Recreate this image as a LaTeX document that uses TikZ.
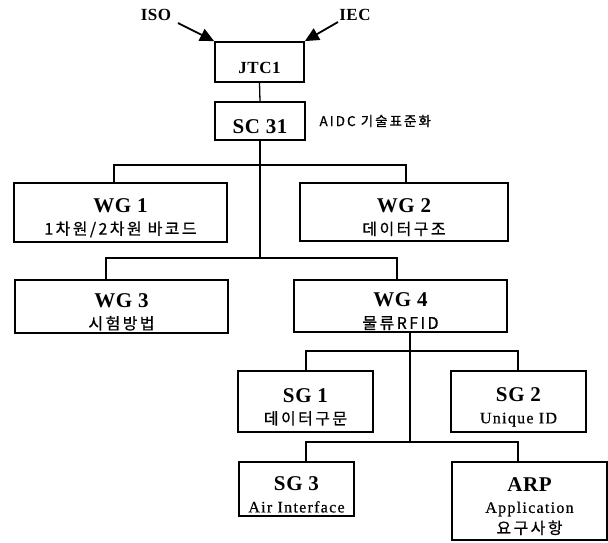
\documentclass[tikz,border=0pt]{standalone}
\usepackage{fontspec}
\setmainfont{Liberation Serif}
\newfontfamily\ttlfont[LetterSpace=3]{Liberation Serif}
\newfontfamily\subfont[LetterSpace=8,FakeBold=0.5]{Liberation Serif}
\newfontfamily\krfont[LetterSpace=15,FakeBold=0.7]{Noto Sans CJK KR}
\usetikzlibrary{arrows.meta}
\newcommand{\ttl}[1]{{\ttlfont\bfseries\fontsize{21}{22}\selectfont\rule{0pt}{25pt}#1}}
\newcommand{\kr}[1]{{\krfont\fontsize{16}{22}\selectfont #1}}
\newcommand{\sub}[1]{{\subfont\fontsize{16}{22}\selectfont #1}}
\tikzset{
	orgbox/.style={draw, line width=1.8pt, inner sep=0pt, align=center, font=\fontsize{16}{22}\selectfont},
	headfont/.style={font=\ttlfont\bfseries\fontsize{17}{20}\selectfont},
	link/.style={line width=1.3pt},
	feed/.style={line width=1.8pt, -{Triangle[length=14pt,width=13pt]}},
}

\begin{document}
\begin{tikzpicture}[x=1pt, y=-1pt]
		%%%%% START %%%%%
		\useasboundingbox (0, 0) rectangle (608, 542);
		
		\node[headfont] (iso) at (156, 15) {ISO};
		\node[headfont] (iec) at (355, 15) {IEC};
		
		\node[orgbox, headfont, minimum width=89pt, minimum height=40pt] (jtc) at (259.5, 62) {\rule{0pt}{24pt}JTC1};
		\node[orgbox, minimum width=90pt, minimum height=38pt] (sc) at (260, 121) {\ttl{SC 31}};
		\node[anchor=west, font=\krfont\fontsize{13.5}{16}\selectfont] (aidc) at (316, 121) {AIDC 기술표준화};
		
		\node[orgbox, minimum width=213pt, minimum height=59pt] (wg1) at (120.5, 212.5) {\ttl{WG 1}\\\kr{1차원/2차원 바코드}};
		\node[orgbox, minimum width=208pt, minimum height=58pt] (wg2) at (404, 212) {\ttl{WG 2}\\\kr{데이터구조}};
		\node[orgbox, minimum width=213pt, minimum height=53pt] (wg3) at (121.5, 306.5) {\ttl{WG 3}\\\kr{시험방법}};
		\node[orgbox, minimum width=213pt, minimum height=52pt] (wg4) at (400.5, 306) {\ttl{WG 4}\\\kr{물류RFID}};
		
		\node[orgbox, minimum width=135pt, minimum height=61pt] (sg1) at (305.5, 401.5) {\ttl{SG 1}\\\kr{데이터구문}};
		\node[orgbox, minimum width=135pt, minimum height=61pt] (sg2) at (518.5, 401.5) {\ttl{SG 2}\\\sub{Unique ID}};
		\node[orgbox, minimum width=115pt, minimum height=54pt] (sg3) at (296.5, 489) {\ttl{SG 3}\\\sub{Air Interface}};
		\node[orgbox, minimum width=155pt, minimum height=78pt, font=\fontsize{16}{21}\selectfont] (arp) at (529.5, 501) {\ttl{ARP}\\\sub{Application}\\\kr{요구사항}};
		
		% feeds into JTC1
		\coordinate (isoend) at (178, 23);
		\coordinate (iecend) at (338, 22);
		\draw[feed] (isoend) -- (jtc.north west);
		\draw[feed] (iecend) -- (jtc.north east);
		
		% SC 31 and its working groups
		\coordinate (bar1) at (260, 165);
		\coordinate (bar2) at (260, 258);
		\draw[link] (jtc.south) -- (sc.north);
		\draw[link] (sc.south) -- (bar2);
		\draw[link] ([xshift=-6.5pt]wg1.north) |- (bar1) -| ([xshift=2pt]wg2.north);
		\draw[link] ([xshift=-15.5pt]wg3.north) |- (bar2) -| ([xshift=-3.5pt]wg4.north);
		
		% WG 4 and its sub groups
		\coordinate (bar3) at (410, 351);
		\coordinate (bar4) at (410, 442);
		\draw[link] ([xshift=9.5pt]wg4.south) -- (bar4);
		\draw[link] ([xshift=0.5pt]sg1.north) |- (bar3) -| ([xshift=-0.5pt]sg2.north);
		\draw[link] ([xshift=9.5pt]sg3.north) |- (bar4) -| ([xshift=-11.5pt]arp.north);
		%%%%% END %%%%%
\end{tikzpicture}
\end{document}
